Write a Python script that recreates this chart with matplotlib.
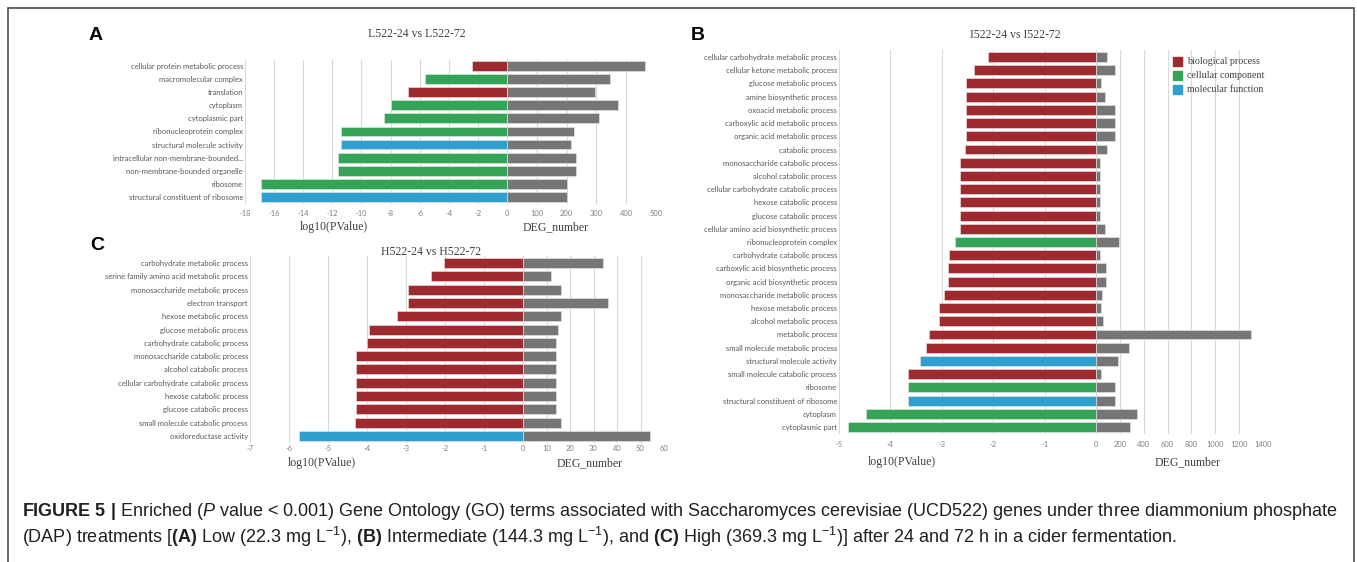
import matplotlib
matplotlib.use("Agg")
import numpy as np
import matplotlib.pyplot as plt
from matplotlib.patches import Rectangle

plt.rcParams["axes.unicode_minus"] = False
plt.rcParams["mathtext.fontset"] = "custom"
plt.rcParams["mathtext.rm"] = "Liberation Sans"
plt.rcParams["mathtext.it"] = "Liberation Sans:italic"
plt.rcParams["mathtext.bf"] = "Liberation Sans:bold"

W, H = 1357, 562

# GO category colours
go_colors = {"BP": "#9e2a2f", "CC": "#34a456", "MF": "#2f9fcf"}
go_names = {"BP": "biological process", "CC": "cellular component", "MF": "molecular function"}
deg_color = "#767676"

# A: low DAP
a_terms = ["cellular protein metabolic process", "macromolecular complex", "translation",
           "cytoplasm", "cytoplasmic part", "ribonucleoprotein complex",
           "structural molecule activity", "intracellular non-membrane-bounded...",
           "non-membrane-bounded organelle", "ribosome", "structural constituent of ribosome"]
a_cat = ["BP", "CC", "BP", "CC", "CC", "CC", "MF", "CC", "CC", "CC", "MF"]
a_log10p = [-2.42, -5.6, -6.83, -7.99, -8.46, -11.38, -11.38, -11.6, -11.6, -16.9, -16.9]
a_deg = [464, 345, 294, 373, 310, 224, 214, 231, 231, 201, 201]

# B: intermediate DAP
b_terms = ["cellular carbohydrate metabolic process", "cellular ketone metabolic process",
           "glucose metabolic process", "amine biosynthetic process", "oxoacid metabolic process",
           "carboxylic acid metabolic process", "organic acid metabolic process", "catabolic process",
           "monosaccharide catabolic process", "alcohol catabolic process",
           "cellular carbohydrate catabolic process", "hexose catabolic process",
           "glucose catabolic process", "cellular amino acid biosynthetic process",
           "ribonucleoprotein complex", "carbohydrate catabolic process",
           "carboxylic acid biosynthetic process", "organic acid biosynthetic process",
           "monosaccharide metabolic process", "hexose metabolic process", "alcohol metabolic process",
           "metabolic process", "small molecule metabolic process", "structural molecule activity",
           "small molecule catabolic process", "ribosome", "structural constituent of ribosome",
           "cytoplasm", "cytoplasmic part"]
b_cat = ["BP"] * 14 + ["CC"] + ["BP"] * 8 + ["MF", "BP", "CC", "MF", "CC", "CC"]
b_log10p = [-2.11, -2.38, -2.52, -2.53, -2.53, -2.53, -2.53, -2.55, -2.64, -2.64,
            -2.64, -2.64, -2.64, -2.64, -2.75, -2.86, -2.88, -2.88, -2.95, -3.05,
            -3.05, -3.25, -3.31, -3.43, -3.65, -3.65, -3.65, -4.47, -4.82]
b_deg = [90, 156, 40, 73, 156, 156, 156, 90, 33, 33, 33, 33, 33, 73, 189, 33, 83, 83,
         50, 46, 60, 1300, 275, 182, 40, 162, 162, 341, 281]

# C: high DAP
c_terms = ["carbohydrate metabolic process", "serine family amino acid metabolic process",
           "monosaccharide metabolic process", "electron transport", "hexose metabolic process",
           "glucose metabolic process", "carbohydrate catabolic process",
           "monosaccharide catabolic process", "alcohol catabolic process",
           "cellular carbohydrate catabolic process", "hexose catabolic process",
           "glucose catabolic process", "small molecule catabolic process", "oxidoreductase activity"]
c_cat = ["BP"] * 13 + ["MF"]
c_log10p = [-2.02, -2.36, -2.96, -2.96, -3.23, -3.95, -4.0, -4.28, -4.28, -4.28, -4.28,
            -4.28, -4.31, -5.74]
c_deg = [34, 12, 16, 36, 16, 15, 14, 14, 14, 14, 14, 14, 16, 54]


def box(x0, x1, y0, y1):
    return [x0 / W, 1 - y1 / H, (x1 - x0) / W, (y1 - y0) / H]


def ftext(x, y, s, **kw):
    fig.text(x / W, 1 - y / H, s, **kw)


def draw_panel(terms, cats, logp, deg, xl, xm, xr, yt, yb, pmin, pstep, dmax, dstep,
               tick_pad, letter, title, letter_xy, title_xy, lab_y, plab_x, dlab_x):
    y = np.arange(len(terms))
    ax_p = fig.add_axes(box(xl, xm, yt, yb))
    ax_d = fig.add_axes(box(xm, xr, yt, yb))

    ax_p.barh(y, logp, height=0.75, color=[go_colors[c] for c in cats],
              edgecolor="#e8e8e8", linewidth=0.4, zorder=2)
    ax_d.barh(y, deg, height=0.75, color=deg_color, edgecolor="#e8e8e8", linewidth=0.4, zorder=2)

    pticks = np.arange(pmin, 0.001, pstep)
    ax_p.set_xlim(pmin, 0)
    ax_p.set_xticks(pticks)
    ax_p.set_xticklabels([f"{t:g}" if t != 0 else "" for t in pticks])
    ax_d.set_xlim(0, dmax)
    ax_d.set_xticks(np.arange(0, dmax + 1, dstep))

    for ax in (ax_p, ax_d):
        ax.set_ylim(len(terms) - 0.5, -0.5)
        ax.grid(axis="x", color="#d9d9d9", linewidth=0.8, zorder=0)
        ax.set_axisbelow(True)
        for sp in ax.spines.values():
            sp.set_visible(False)
        ax.tick_params(axis="x", length=0, labelsize=5.4, labelcolor="#808080", pad=tick_pad)
        ax.patch.set_alpha(0)
        for lbl in ax.get_xticklabels():
            lbl.set_family("Lato")

    ax_p.set_yticks(y)
    ax_p.set_yticklabels(terms, fontsize=5.5, color="#595959", family="Lato")
    ax_p.tick_params(axis="y", length=0, pad=1.5)
    ax_d.set_yticks([])

    ftext(*letter_xy, letter, fontsize=14, weight="bold", family="Liberation Sans",
          ha="center", va="center")
    ftext(*title_xy, title, fontsize=8.5, family="Liberation Serif", color="#404040",
          ha="center", va="center")
    ftext(plab_x, lab_y, "log10(PValue)", fontsize=8.5, family="Liberation Serif",
          color="#404040", ha="center", va="center")
    ftext(dlab_x, lab_y, "DEG_number", fontsize=8.5, family="Liberation Serif",
          color="#404040", ha="center", va="center")


fig = plt.figure(figsize=(W / 100, H / 100), dpi=100)

draw_panel(a_terms, a_cat, a_log10p, a_deg, 245, 507, 656, 59.5, 203.5, -18, 2, 500, 100,
           4.5, "A", "L522-24 vs L522-72", (96, 35), (417, 34), 227, 334, 556)
draw_panel(b_terms, b_cat, b_log10p, b_deg, 839, 1096, 1263, 50.4, 433.6, -5, 1, 1400, 200,
           5.5, "B", "I522-24 vs I522-72", (698, 35), (1015, 35), 462, 902, 1188)
draw_panel(c_terms, c_cat, c_log10p, c_deg, 250, 523, 664, 256.3, 442.7, -7, 1, 60, 10,
           1.5, "C", "H522-24 vs H522-72", (97, 245), (431, 252), 463, 322, 590)

# legend for panel B
for i, key in enumerate(["BP", "CC", "MF"]):
    yc = 61 + 14 * i
    fig.add_artist(Rectangle((1173 / W, 1 - (yc + 4.5) / H), 9 / W, 9 / H,
                             transform=fig.transFigure, color=go_colors[key]))
    ftext(1187, yc, go_names[key], fontsize=7.2, family="Liberation Serif", color="#404040",
          va="center")

# frame around the figure
fig.add_artist(Rectangle((8 / W, -0.05), (1354 - 8) / W, 1.05 - 8 / H, transform=fig.transFigure,
                         fill=False, edgecolor="#4d4d4d", linewidth=1.2))

caption1 = (r"$\mathbf{FIGURE\ 5\ |}$ Enriched ($\mathit{P}$ value < 0.001) Gene Ontology (GO) terms "
            r"associated with Saccharomyces cerevisiae (UCD522) genes under three diammonium phosphate")
caption2 = (r"(DAP) treatments [$\mathbf{(A)}$ Low (22.3 mg L$^{-1}$), $\mathbf{(B)}$ Intermediate "
            r"(144.3 mg L$^{-1}$), and $\mathbf{(C)}$ High (369.3 mg L$^{-1}$)] after 24 and 72 h "
            r"in a cider fermentation.")
ftext(22, 511, caption1, fontsize=13, family="Liberation Sans", color="#231f20", va="center")
ftext(22, 537, caption2, fontsize=13, family="Liberation Sans", color="#231f20", va="center")

fig.savefig("out.png", dpi=100)
